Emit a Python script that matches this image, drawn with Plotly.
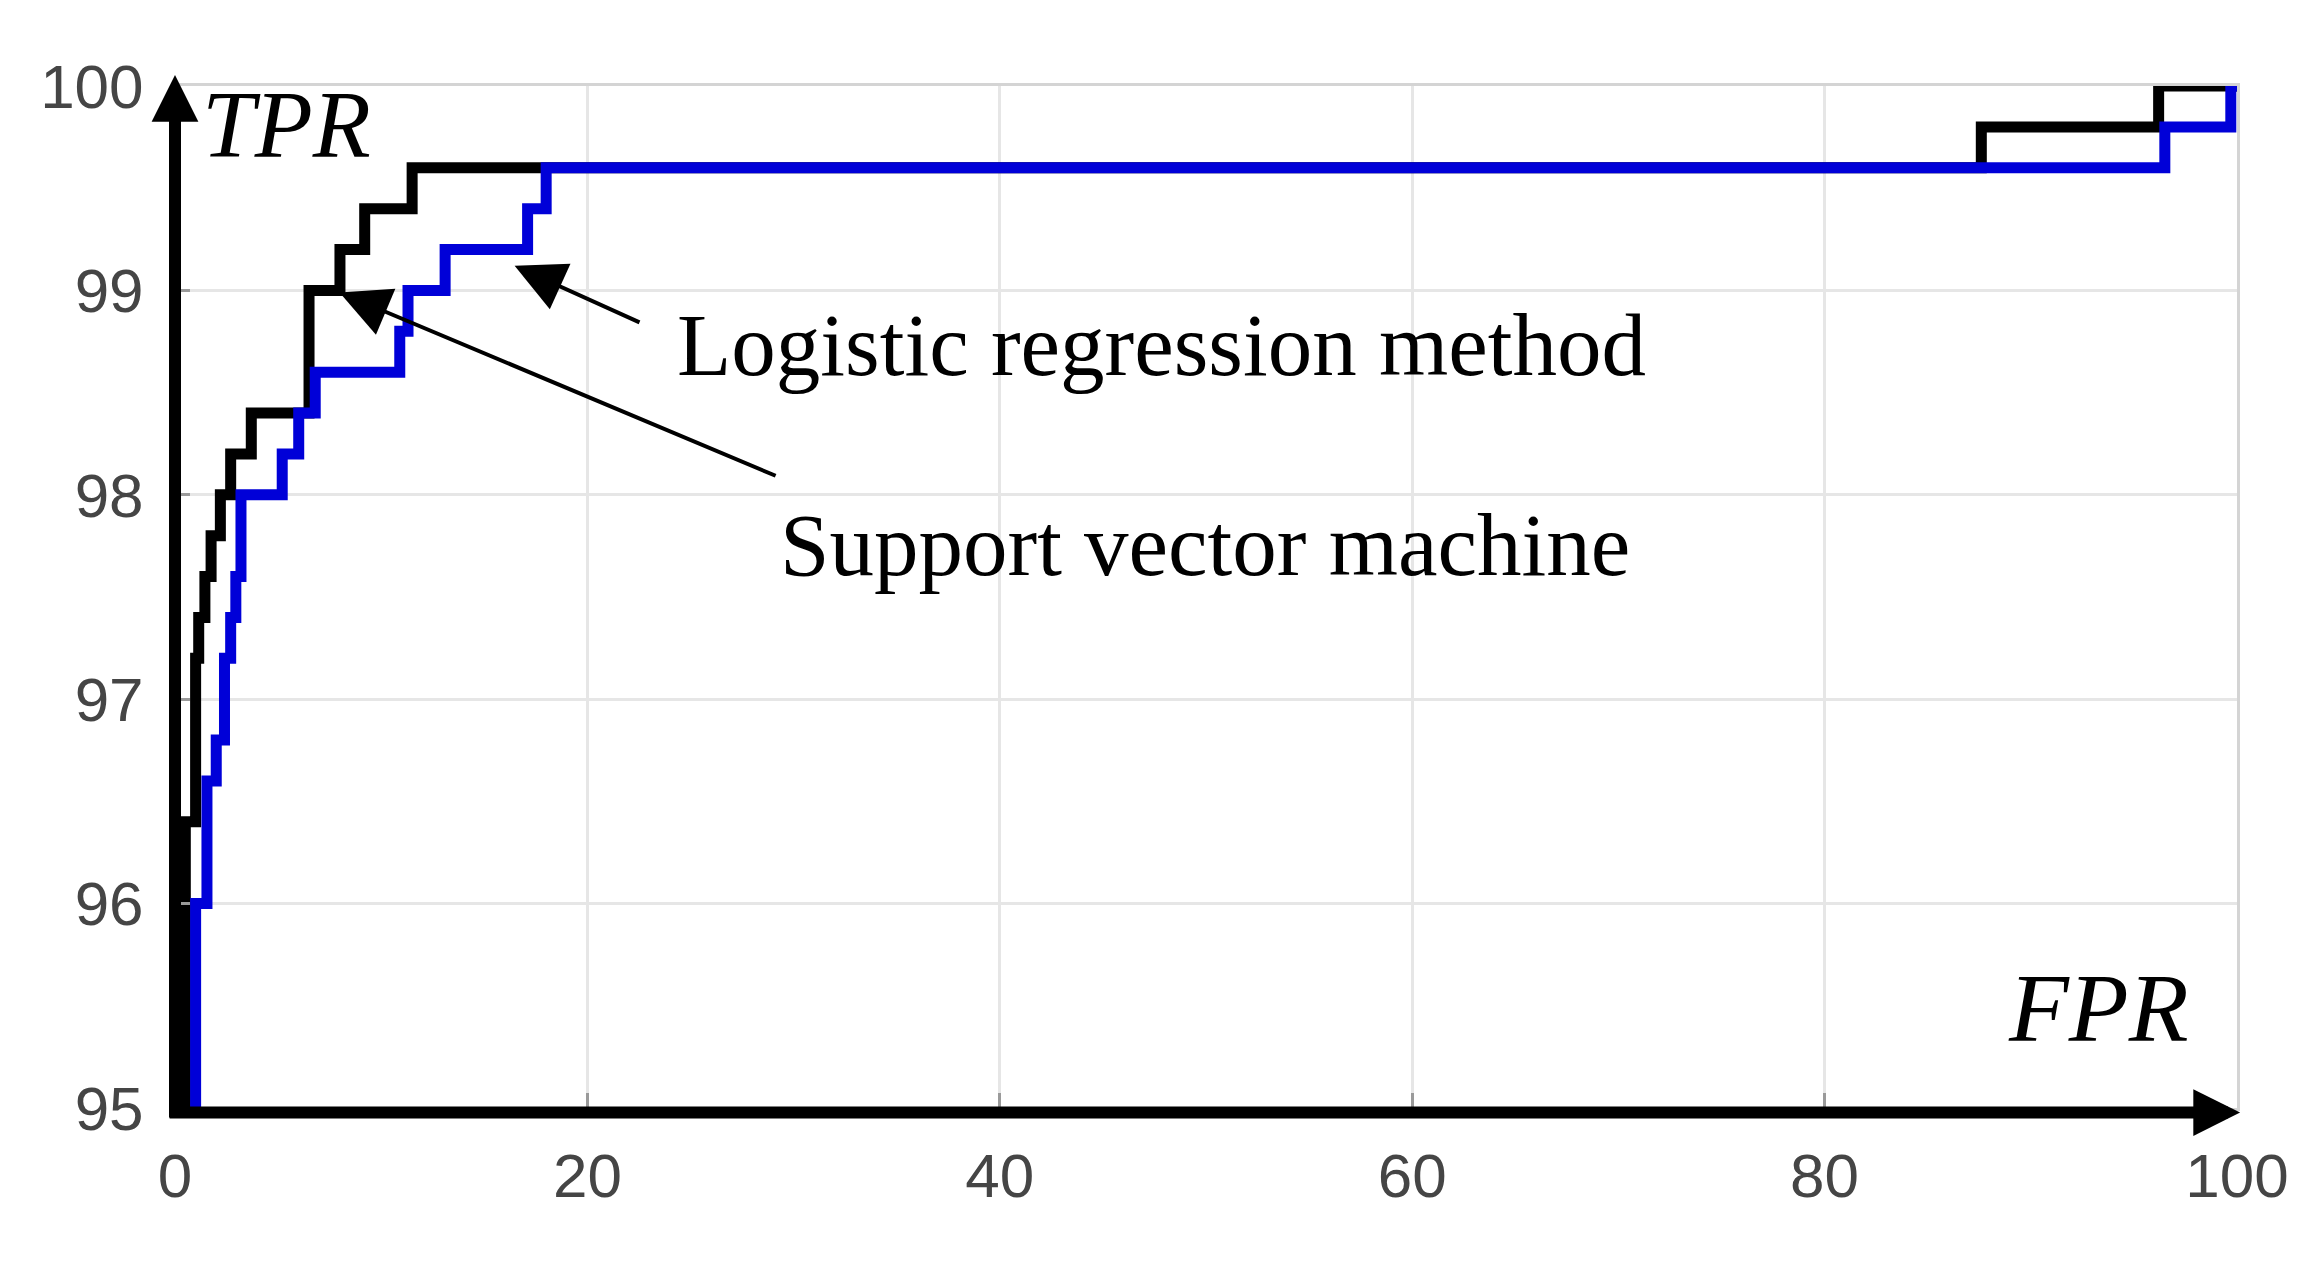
"""ROC curves: support vector machine vs logistic regression."""

import plotly.graph_objects as go

# FPR / TPR corner points of the two step curves (percent)
svm_fpr = [0.5, 0.5, 1.0, 1.15, 1.45, 1.75, 2.2, 2.7, 3.7, 6.5, 8.0, 9.2, 11.5, 87.6, 96.2, 100.0]
svm_tpr = [95.0, 96.4, 97.2, 97.4, 97.6, 97.8, 98.0, 98.2, 98.4, 99.0, 99.2, 99.4, 99.6, 99.8, 100.0, 100.0]

lr_fpr = [1.0, 1.0, 1.55, 2.0, 2.4, 2.7, 2.95, 3.2, 5.2, 6.0, 6.8, 10.9, 11.3, 13.1, 17.1, 18.0, 96.5, 99.7, 100.0]
lr_tpr = [95.0, 96.0, 96.6, 96.8, 97.2, 97.4, 97.6, 98.0, 98.2, 98.4, 98.6, 98.8, 99.0, 99.2, 99.4, 99.6, 99.8, 100.0, 100.0]

x_ticks = [0, 20, 40, 60, 80, 100]
y_ticks = [95, 96, 97, 98, 99, 100]

TICK_FONT = dict(family="Liberation Sans, Arial, sans-serif", size=62, color="#454545")
LABEL_FONT = dict(family="Liberation Serif, Times New Roman, serif", size=89, color="black")
AXIS_FONT = dict(family="Liberation Serif, Times New Roman, serif", size=95, color="black")

fig = go.Figure()
fig.add_trace(go.Scatter(
    x=svm_fpr, y=svm_tpr, mode="lines", name="Support vector machine",
    line=dict(color="black", width=11, shape="hv"), cliponaxis=False,
))
fig.add_trace(go.Scatter(
    x=lr_fpr, y=lr_tpr, mode="lines", name="Logistic regression method",
    line=dict(color="#0000d8", width=11, shape="hv"), cliponaxis=False,
))

# thick black axis arrows (paper coords so they may sit just outside the range)
fig.add_annotation(x=1.0015, y=-0.0045, xref="paper", yref="paper",
                   ax=-2072, ay=0, text="", showarrow=True,
                   arrowhead=2, arrowwidth=12, arrowsize=0.78, arrowcolor="black")
fig.add_annotation(x=0, y=1.0108, xref="paper", yref="paper",
                   ax=0, ay=1044, text="", showarrow=True,
                   arrowhead=2, arrowwidth=12, arrowsize=0.78, arrowcolor="black")

# pointer arrows to the curves
fig.add_annotation(x=16.47, y=99.12, ax=22.6, ay=98.84, xref="x", yref="y",
                   axref="x", ayref="y", text="", showarrow=True,
                   arrowhead=2, arrowwidth=4, arrowsize=2.5, arrowcolor="black")
fig.add_annotation(x=7.98, y=98.99, ax=29.2, ay=98.09, xref="x", yref="y",
                   axref="x", ayref="y", text="", showarrow=True,
                   arrowhead=2, arrowwidth=4, arrowsize=2.5, arrowcolor="black")

fig.add_annotation(x=24.25, y=98.735, xref="x", yref="y", text="Logistic regression method",
                   showarrow=False, xanchor="left", yanchor="middle", font=LABEL_FONT)
fig.add_annotation(x=29.25, y=97.755, xref="x", yref="y", text="Support vector machine",
                   showarrow=False, xanchor="left", yanchor="middle", font=LABEL_FONT)
fig.add_annotation(x=1.2, y=99.81, xref="x", yref="y", text="<i>TPR</i>",
                   showarrow=False, xanchor="left", yanchor="middle", font=AXIS_FONT)
fig.add_annotation(x=88.8, y=95.49, xref="x", yref="y", text="<i>FPR</i>",
                   showarrow=False, xanchor="left", yanchor="middle",
                   font=dict(AXIS_FONT, size=98))

fig.update_layout(
    width=2322, height=1262,
    margin=dict(l=167, r=93, t=78, b=162),
    paper_bgcolor="white", plot_bgcolor="white",
    showlegend=False,
)
fig.update_xaxes(
    range=[0, 100], tickvals=x_ticks, tickfont=TICK_FONT,
    showgrid=True, gridcolor="#e6e6e6", gridwidth=3, zeroline=False,
    showline=True, linecolor="#d4d4d4", linewidth=3, mirror=True,
    ticks="inside", ticklen=15, tickwidth=3, tickcolor="#9a9a9a",
    ticklabelstandoff=12,
)
fig.update_yaxes(
    range=[95, 100], tickvals=y_ticks, tickfont=TICK_FONT,
    showgrid=True, gridcolor="#e6e6e6", gridwidth=3, zeroline=False,
    showline=True, linecolor="#d4d4d4", linewidth=3, mirror=True,
    ticks="inside", ticklen=15, tickwidth=3, tickcolor="#9a9a9a",
    ticklabelstandoff=16,
)

fig.write_html("out.html")
